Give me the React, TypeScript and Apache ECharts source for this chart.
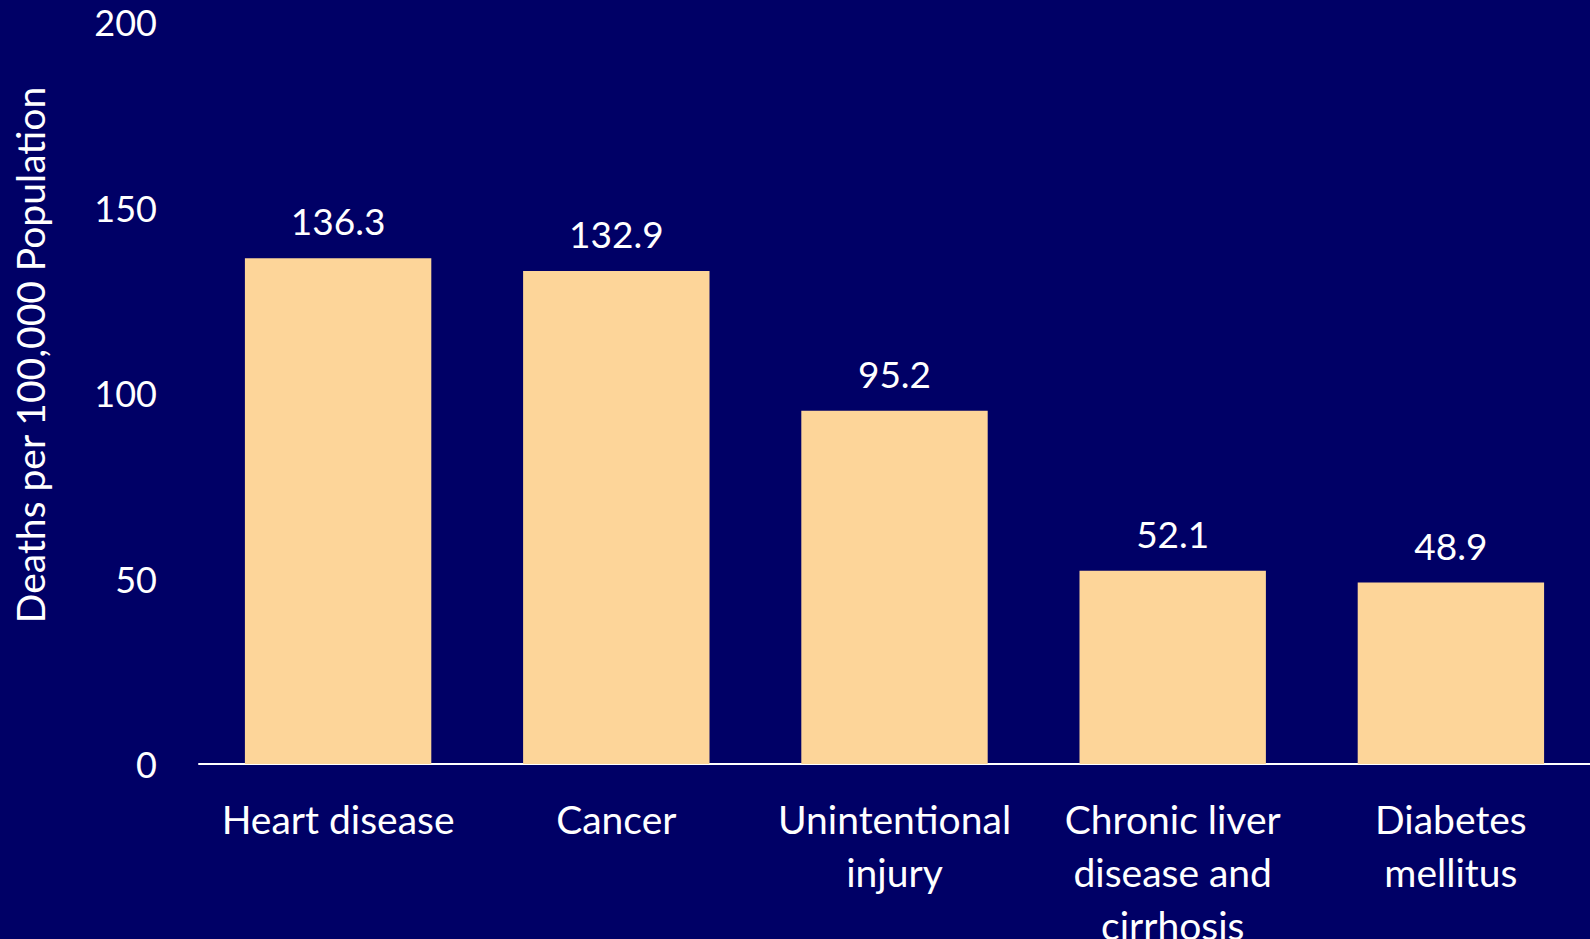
import React, { useEffect, useRef } from "react";
import * as echarts from "echarts";

const categories = ["Heart disease", "Cancer", "Unintentional injury", "Chronic liver disease and cirrhosis", "Diabetes mellitus"];
const tickLabels = ["Heart disease", "Cancer", "Unintentional\ninjury", "Chronic liver\ndisease and\ncirrhosis", "Diabetes\nmellitus"];
const values = [136.3, 132.9, 95.2, 52.1, 48.9];
const yTicks = [0, 50, 100, 150, 200];
const yAxisTitle = "Deaths per 100,000 Population";

const FONT = "Lato, 'Open Sans', sans-serif";

export default function App() {
  const ref = useRef<HTMLDivElement>(null);
  useEffect(() => {
    if (!ref.current) return;
    const chart = echarts.init(ref.current, null, { renderer: "svg" });
    chart.setOption({
      animation: false,
      backgroundColor: "#000066",
      grid: { left: 199, right: 0, top: 22, bottom: 175, containLabel: false, outerBoundsMode: "none" },
      xAxis: {
        type: "category",
        data: categories,
        axisLine: { show: true, lineStyle: { color: "#ffffff", width: 2 } },
        axisTick: { show: false },
        axisLabel: {
          color: "#ffffff",
          fontFamily: FONT,
          fontSize: 39,
          lineHeight: 53,
          margin: 28,
          interval: 0,
          formatter: (_v: string, i: number) => tickLabels[i],
        },
      },
      yAxis: {
        type: "value",
        min: yTicks[0],
        max: yTicks[yTicks.length - 1],
        interval: 50,
        axisLine: { show: false },
        axisTick: { show: false },
        splitLine: { show: false },
        axisLabel: { color: "#ffffff", fontFamily: FONT, fontSize: 36, margin: 42 },
      },
      graphic: [
        {
          type: "text",
          x: 30,
          y: 355,
          rotation: Math.PI / 2,
          style: {
            text: yAxisTitle,
            fill: "#ffffff",
            font: `39px ${FONT}`,
            textAlign: "center",
            textVerticalAlign: "middle",
          },
        },
      ],
      series: [
        {
          type: "bar",
          data: values,
          barCategoryGap: "33%",
          itemStyle: { color: "#FDD599" },
          label: {
            show: true,
            position: "top",
            distance: 19,
            color: "#ffffff",
            fontFamily: FONT,
            fontSize: 37,
            formatter: (p: any) => p.value.toFixed(1),
          },
        },
      ],
    });
    return () => chart.dispose();
  }, []);
  return <div ref={ref} style={{ position: "fixed", left: 0, top: 0, width: 1590, height: 939 }} />;
}
